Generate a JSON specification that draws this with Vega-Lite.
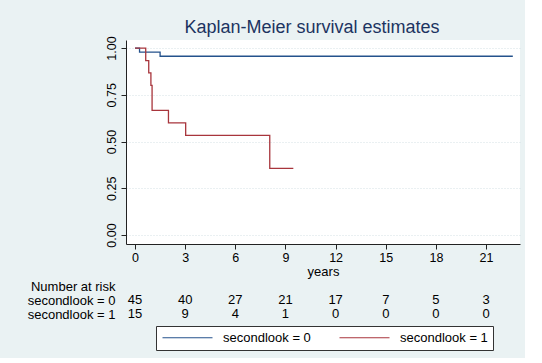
{
  "$schema": "https://vega.github.io/schema/vega-lite/v6.json",
  "background": "#eaf2f3",
  "padding": {"left": 27, "top": 18, "right": 5, "bottom": 7},
  "bounds": "flush",
  "spacing": 35,
  "config": {
    "font": "Liberation Sans",
    "view": {"fill": "white", "stroke": null},
    "axis": {"labelFont": "Liberation Sans", "titleFont": "Liberation Sans", "labelColor": "#000", "titleColor": "#000", "domainColor": "#222", "tickColor": "#222"}
  },
  "vconcat": [
    {
      "width": 394,
      "height": 204,
      "title": {"text": "Kaplan-Meier survival estimates", "fontSize": 18, "fontWeight": "normal", "color": "#1c3461", "anchor": "middle", "frame": "group", "dx": -11, "offset": -1},
      "data": {"values": [
        {"group": "secondlook = 0", "t": 0, "s": 1},
        {"group": "secondlook = 0", "t": 0.27, "s": 0.978},
        {"group": "secondlook = 0", "t": 1.5, "s": 0.956},
        {"group": "secondlook = 0", "t": 22.6, "s": 0.956},
        {"group": "secondlook = 1", "t": 0, "s": 1},
        {"group": "secondlook = 1", "t": 0.64, "s": 0.933},
        {"group": "secondlook = 1", "t": 0.82, "s": 0.867},
        {"group": "secondlook = 1", "t": 0.95, "s": 0.8},
        {"group": "secondlook = 1", "t": 1.02, "s": 0.667},
        {"group": "secondlook = 1", "t": 2.0, "s": 0.6},
        {"group": "secondlook = 1", "t": 3.03, "s": 0.533},
        {"group": "secondlook = 1", "t": 8.06, "s": 0.356},
        {"group": "secondlook = 1", "t": 9.47, "s": 0.356}
      ]},
      "mark": {"type": "line", "interpolate": "step-after", "strokeWidth": 1.3},
      "encoding": {
        "x": {"field": "t", "type": "quantitative", "scale": {"domain": [-0.54, 23.03], "nice": false, "zero": false},
          "axis": {"values": [0, 3, 6, 9, 12, 15, 18, 21], "title": "years", "grid": false, "labelFontSize": 12.5, "titleFontSize": 13, "titleFontWeight": "normal", "tickSize": 5, "labelPadding": 2, "titlePadding": 2, "labelFlush": false}},
        "y": {"field": "s", "type": "quantitative", "scale": {"domain": [-0.048, 1.043], "nice": false, "zero": false},
          "axis": {"values": [0, 0.25, 0.5, 0.75, 1], "format": ".2f", "title": null, "labelAngle": 270, "labelAlign": "center", "labelBaseline": "bottom", "labelFontSize": 12.5, "tickSize": 5, "labelPadding": 3, "grid": true, "gridColor": "#d5e0e4", "gridDash": [1, 2], "labelFlush": false}},
        "color": {"field": "group", "type": "nominal",
          "scale": {"domain": ["secondlook = 0", "secondlook = 1"], "range": ["#24528c", "#a8353c"]},
          "legend": {"orient": "none", "legendX": 30, "legendY": 286, "direction": "horizontal", "title": null, "symbolType": "M-1,0H9", "symbolSize": 100, "symbolStrokeWidth": 1.2, "symbolFillColor": "transparent", "labelFontSize": 13, "labelColor": "#000", "labelOffset": 49, "columnPadding": 26, "padding": 5, "strokeColor": "#333", "fillColor": "white"}}
      }
    },
    {
      "width": 394,
      "height": 42,
      "view": {"fill": null, "stroke": null},
      "data": {"values": [
        {"row": "secondlook = 0", "t": 0, "n": 45},
        {"row": "secondlook = 0", "t": 3, "n": 40},
        {"row": "secondlook = 0", "t": 6, "n": 27},
        {"row": "secondlook = 0", "t": 9, "n": 21},
        {"row": "secondlook = 0", "t": 12, "n": 17},
        {"row": "secondlook = 0", "t": 15, "n": 7},
        {"row": "secondlook = 0", "t": 18, "n": 5},
        {"row": "secondlook = 0", "t": 21, "n": 3},
        {"row": "secondlook = 1", "t": 0, "n": 15},
        {"row": "secondlook = 1", "t": 3, "n": 9},
        {"row": "secondlook = 1", "t": 6, "n": 4},
        {"row": "secondlook = 1", "t": 9, "n": 1},
        {"row": "secondlook = 1", "t": 12, "n": 0},
        {"row": "secondlook = 1", "t": 15, "n": 0},
        {"row": "secondlook = 1", "t": 18, "n": 0},
        {"row": "secondlook = 1", "t": 21, "n": 0}
      ]},
      "mark": {"type": "text", "fontSize": 13, "color": "#000", "baseline": "middle", "align": "center"},
      "encoding": {
        "x": {"field": "t", "type": "quantitative", "scale": {"domain": [-0.54, 23.03], "nice": false, "zero": false}, "axis": null},
        "y": {"field": "row", "type": "ordinal", "scale": {"type": "point", "domain": ["Number at risk", "secondlook = 0", "secondlook = 1"], "padding": 0.5},
          "axis": {"title": null, "domain": false, "ticks": false, "grid": false, "labelFontSize": 13, "labelPadding": 11, "labelColor": "#000"}},
        "text": {"field": "n", "type": "quantitative"}
      }
    }
  ]
}
